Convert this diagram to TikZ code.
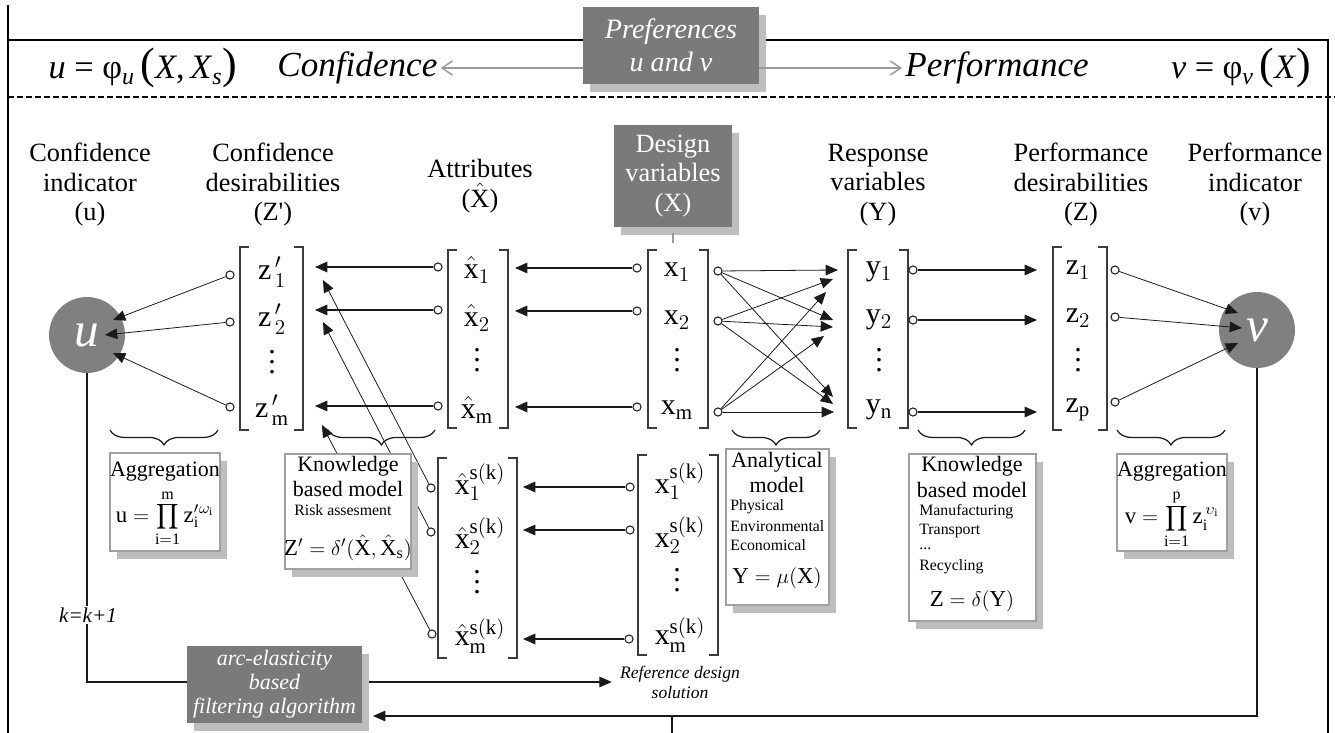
\documentclass[tikz,border=0pt]{standalone}
\usepackage{fontspec}
\setmainfont{Liberation Serif}
\usetikzlibrary{arrows.meta,decorations.pathreplacing,shadows,calc}
\definecolor{boxgray}{HTML}{7A7A7A}
\definecolor{circgray}{HTML}{808080}
\definecolor{shadowgray}{HTML}{BEBEBE}
\definecolor{bordergray}{HTML}{A0A0A0}
\definecolor{garrow}{HTML}{9A9A9A}
\definecolor{ink}{HTML}{1A1A1A}
\newcommand{\vd}{\vbox{\baselineskip=5.6pt\lineskiplimit=0pt\hbox{.}\hbox{.}\hbox{.}}}
\newcommand{\bigparl}{{\fontsize{25}{25}\selectfont(}}
\newcommand{\bigparr}{{\fontsize{25}{25}\selectfont)}}
\newcommand{\brk}[4]{%
  \draw[brk] (#1+9,#3) -| (#1,#4) -- (#1+9,#4);
  \draw[brk] (#2-9,#3) -| (#2,#4) -- (#2-9,#4);}
\tikzset{
  hdr/.style={align=center, inner sep=0pt, font=\fontsize{15}{16.8}\selectfont},
  hmath/.style={inner sep=0pt, font=\fontsize{19.5}{22}\selectfont},
  hital/.style={inner sep=0pt, font=\fontsize{20}{22}\selectfont\itshape},
  ent/.style={inner sep=0pt, font=\fontsize{17}{19}\selectfont},
  term/.style={circle, draw=ink, fill=white, line width=0.6pt, inner sep=0pt, minimum size=4.6pt},
  conn/.style={draw=ink, line width=0.6pt, -{Triangle[length=7pt,width=6pt]}},
  thinconn/.style={draw=ink, line width=0.45pt, -{Triangle[length=7pt,width=6pt]}},
  plain/.style={draw=ink, line width=0.6pt},
  brk/.style={draw=ink!85, line width=0.7pt},
  frame/.style={draw=black, line width=1.1pt},
  dline/.style={draw=black, line width=1.1pt, dash pattern=on 3.4pt off 1.7pt},
  garr/.style={draw=garrow, line width=0.8pt, -{Straight Barb[length=6pt,width=8pt]}},
  tickc/.style={draw=garrow, line width=1pt},
  shad/.style={drop shadow={shadow xshift=4pt, shadow yshift=-4.5pt, fill=shadowgray, opacity=1}},
  gbox/.style={fill=boxgray, text=white, inner sep=0pt, align=center, shad},
  wbox/.style={draw=bordergray, fill=white, line width=0.7pt, inner sep=0pt, shad},
  bigc/.style={circle, fill=circgray, text=white, inner sep=0pt, minimum size=1.52cm, font=\fontsize{28}{28}\selectfont\itshape},
  btxt/.style={inner sep=0pt, font=\fontsize{12.5}{14}\selectfont},
  stxt/.style={inner sep=0pt, anchor=west, font=\fontsize{9}{10}\selectfont},
  ftxt/.style={inner sep=0pt, font=\fontsize{13}{15}\selectfont},
  dbrace/.style={draw=ink, line width=0.7pt, decorate, decoration={brace, mirror, amplitude=8.5pt}}
}
\begin{document}
\begin{tikzpicture}[x=0.02cm,y=-0.02cm]
\useasboundingbox (0,0) rectangle (1335,733);
% frame
\draw[frame] (8,5) -- (8,733);
\draw[frame] (8,40) -- (1328,40) -- (1328,733);
\draw[dline] (8,97) -- (1335,97);
% header
\node[hmath] (phiu) at (143,68) {\textit{u} = φ\textsubscript{\textit{u}}\,\bigparl\textit{X},\,\textit{X}\textsubscript{\textit{s}}\bigparr};
\node[hital, anchor=west] (conf) at (277,68) {Confidence};
\node[hital, anchor=west] (perf) at (905,68) {Performance};
\node[hmath] (phiv) at (1241,68) {\textit{v} = φ\textsubscript{\textit{v}}\,\bigparl\textit{X}\bigparr};
\node[gbox, minimum width=3.52cm, minimum height=1.54cm, font=\fontsize{16}{18.7}\selectfont\itshape] (pref) at (671,45.5) {Preferences\\u and v};
\draw[garr] (conf.east -| pref.west) -- ($(conf.east)+(3,0)$);
\draw[garr] (perf.west -| pref.east) -- ($(perf.west)+(-3,0)$);
% column headers
\node[hdr] (hu) at (90,185) {Confidence\\indicator\\(u)};
\node[hdr] (hzp) at (273,185) {Confidence\\desirabilities\\(Z\textquotesingle)};
\node[hdr] (hxh) at (480,186) {Attributes\\($\hat{\mathrm{X}}$)};
\node[gbox, minimum width=2.36cm, minimum height=2.04cm, font=\fontsize{15}{17}\selectfont] (dv) at (673,176) {Design\\variables\\(X)};
\draw[tickc] ($(dv.south)+(0,6)$) -- ($(dv.south)+(0,16)$);
\node[hdr] (hy) at (878,185) {Response\\variables\\(Y)};
\node[hdr] (hz) at (1081,185) {Performance\\desirabilities\\(Z)};
\node[hdr] (hv) at (1255,185) {Performance\\indicator\\(v)};
% indicator circles
\node[bigc] (u) at (87,335) {u};
\node[bigc] (v) at (1257,330) {v};
% brackets
\brk{240}{303}{247}{430}
\brk{448}{508}{250}{428}
\brk{648}{708}{250}{428}
\brk{848}{908}{250}{428}
\brk{1053}{1107}{247}{430}
\brk{438}{517}{458}{658}
\brk{638}{718}{455}{655}
% entries
\node[ent] (zp1) at (272,272) {$\mathrm{z}^{\,\prime}_{\,1}$};
\node[ent] (zp2) at (272,319) {$\mathrm{z}^{\,\prime}_{\,2}$};
\node[ent] (zpd) at (272,362) {\vd};
\node[ent] (zpm) at (272,410) {$\mathrm{z}^{\,\prime}_{\,\mathrm{m}}$};
\node[ent] (xh1) at (477,270) {$\hat{\mathrm{x}}_{1}$};
\node[ent] (xh2) at (477,318) {$\hat{\mathrm{x}}_{2}$};
\node[ent] (xhd) at (477,360) {\vd};
\node[ent] (xhm) at (477,410) {$\hat{\mathrm{x}}_{\mathrm{m}}$};
\node[ent] (x1) at (677,272) {$\mathrm{x}_{1}$};
\node[ent] (x2) at (677,320) {$\mathrm{x}_{2}$};
\node[ent] (xd) at (677,360) {\vd};
\node[ent] (xm) at (677,410) {$\mathrm{x}_{\mathrm{m}}$};
\node[ent] (y1) at (879,272) {$\mathrm{y}_{1}$};
\node[ent] (y2) at (879,320) {$\mathrm{y}_{2}$};
\node[ent] (yd) at (879,360) {\vd};
\node[ent] (yn) at (879,410) {$\mathrm{y}_{\mathrm{n}}$};
\node[ent] (z1) at (1078,270) {$\mathrm{z}_{1}$};
\node[ent] (z2) at (1078,318) {$\mathrm{z}_{2}$};
\node[ent] (zd) at (1078,360) {\vd};
\node[ent] (zpp) at (1078,410) {$\mathrm{z}_{\mathrm{p}}$};
\node[ent] (xs1) at (480,482) {$\hat{\mathrm{x}}_{1}^{\mathrm{s(k)}}$};
\node[ent] (xs2) at (480,536) {$\hat{\mathrm{x}}_{2}^{\mathrm{s(k)}}$};
\node[ent] (xsd) at (477,582) {\vd};
\node[ent] (xsm) at (480,636) {$\hat{\mathrm{x}}_{\mathrm{m}}^{\mathrm{s(k)}}$};
\node[ent] (r1) at (680,481) {$\mathrm{x}_{1}^{\mathrm{s(k)}}$};
\node[ent] (r2) at (680,535) {$\mathrm{x}_{2}^{\mathrm{s(k)}}$};
\node[ent] (rd) at (677,580) {\vd};
\node[ent] (rm) at (680,635) {$\mathrm{x}_{\mathrm{m}}^{\mathrm{s(k)}}$};
% terminals
\node[term] (tz1) at (230,275) {};
\node[term] (tz2) at (230,322) {};
\node[term] (tzm) at (230,407) {};
\node[term] (th1) at (438,267) {};
\node[term] (th2) at (438,310) {};
\node[term] (thm) at (438,406) {};
\node[term] (tx1) at (637,268) {};
\node[term] (tx2) at (637,311) {};
\node[term] (txm) at (637,407) {};
\node[term] (to1) at (718,271) {};
\node[term] (to2) at (718,321) {};
\node[term] (tom) at (718,412) {};
\node[term] (ty1) at (913,270) {};
\node[term] (ty2) at (913,320) {};
\node[term] (tyn) at (913,412) {};
\node[term] (tzz1) at (1115,270) {};
\node[term] (tzz2) at (1115,317) {};
\node[term] (tzzp) at (1115,402) {};
\node[term] (ts1) at (431,488) {};
\node[term] (ts2) at (431,532) {};
\node[term] (tsm) at (432,634) {};
\node[term] (tr1) at (630,487) {};
\node[term] (tr2) at (630,530) {};
\node[term] (trm) at (629,639) {};
% arrow target coordinates
\coordinate (u1) at (113,320);
\coordinate (u2) at (105,335);
\coordinate (u3) at (113,353);
\coordinate (a1) at (315,267);
\coordinate (a2) at (315,310);
\coordinate (a3) at (315,406);
\coordinate (b1) at (323,280);
\coordinate (b2) at (323,322);
\coordinate (b3) at (322,425);
\coordinate (c1) at (515,268);
\coordinate (c2) at (515,311);
\coordinate (c3) at (515,407);
\coordinate (d1) at (523,487);
\coordinate (d2) at (523,530);
\coordinate (d3) at (523,639);
\coordinate (e11) at (838,270);
\coordinate (e12) at (833,320);
\coordinate (e13) at (833,397);
\coordinate (e21) at (833,279);
\coordinate (e22) at (833,327);
\coordinate (e23) at (833,404);
\coordinate (e31) at (826,292);
\coordinate (e32) at (824,336);
\coordinate (e33) at (834,412);
\coordinate (f1) at (1037,270);
\coordinate (f2) at (1037,320);
\coordinate (f3) at (1037,412);
\coordinate (g1) at (1238,313);
\coordinate (g2) at (1242,328);
\coordinate (g3) at (1238,343);
% connectors
\draw[thinconn] (tz1) -- (u1);
\draw[thinconn] (tz2) -- (u2);
\draw[thinconn] (tzm) -- (u3);
\draw[conn] (th1) -- (a1);
\draw[conn] (th2) -- (a2);
\draw[conn] (thm) -- (a3);
\draw[thinconn] (ts1) -- (b1);
\draw[thinconn] (ts2) -- (b2);
\draw[thinconn] (tsm) -- (b3);
\draw[conn] (tx1) -- (c1);
\draw[conn] (tx2) -- (c2);
\draw[conn] (txm) -- (c3);
\draw[conn] (tr1) -- (d1);
\draw[conn] (tr2) -- (d2);
\draw[conn] (trm) -- (d3);
\draw[thinconn] (to1) -- (e11);
\draw[thinconn] (to1) -- (e12);
\draw[thinconn] (to1) -- (e13);
\draw[thinconn] (to2) -- (e21);
\draw[thinconn] (to2) -- (e22);
\draw[thinconn] (to2) -- (e23);
\draw[thinconn] (tom) -- (e31);
\draw[thinconn] (tom) -- (e32);
\draw[thinconn] (tom) -- (e33);
\draw[conn] (ty1) -- (f1);
\draw[conn] (ty2) -- (f2);
\draw[conn] (tyn) -- (f3);
\draw[thinconn] (tzz1) -- (g1);
\draw[thinconn] (tzz2) -- (g2);
\draw[thinconn] (tzzp) -- (g3);
% braces
\draw[dbrace] (110,430) -- (218,430);
\draw[dbrace] (328,430) -- (435,430);
\draw[dbrace] (732,430) -- (820,430);
\draw[dbrace] (918,430) -- (1025,430);
\draw[dbrace] (1117,430) -- (1225,430);
% model boxes
\node[wbox, minimum width=2.2cm, minimum height=1.96cm] (aggL) at (165,502) {};
\node[btxt] (aggLt) at (165,472) {Aggregation};
\node[ftxt] (aggLf) at (165,518) {$\mathrm{u}=\displaystyle\prod_{\mathrm{i=1}}^{\mathrm{m}}\mathrm{z}^{\prime}_{\mathrm{i}}{}^{\omega_{\mathrm{i}}}$};
\node[wbox, minimum width=2.52cm, minimum height=2.3cm] (kbmL) at (348,511.5) {};
\node[btxt] (kbmL1) at (348,466) {Knowledge};
\node[btxt] (kbmL2) at (348,489) {based model};
\node[stxt] (kbmL3) at (294,510) {Risk assesment};
\node[ftxt] (kbmLf) at (348,548) {$\mathrm{Z}'=\delta'\bigl(\hat{\mathrm{X}},\hat{\mathrm{X}}_{\mathrm{s}}\bigr)$};
\node[wbox, minimum width=2.06cm, minimum height=3.12cm] (anal) at (777.5,527) {};
\node[btxt] (anal1) at (777,462) {Analytical};
\node[btxt] (anal2) at (777,485) {model};
\node[stxt] (anal3) at (730,507) {Physical};
\node[stxt] (anal4) at (730,526) {Environmental};
\node[stxt] (anal5) at (730,545) {Economical};
\node[ftxt] (analf) at (777,578) {$\mathrm{Y}=\mu\bigl(\mathrm{X}\bigr)$};
\node[wbox, minimum width=2.54cm, minimum height=3.34cm] (kbmR) at (972.5,537.5) {};
\node[btxt] (kbmR1) at (972,466) {Knowledge};
\node[btxt] (kbmR2) at (972,490) {based model};
\node[stxt] (kbmR3) at (919,512) {Manufacturing};
\node[stxt] (kbmR4) at (919,531) {Transport};
\node[stxt] (kbmR5) at (919,549) {...};
\node[stxt] (kbmR6) at (919,567) {Recycling};
\node[ftxt] (kbmRf) at (972,601) {$\mathrm{Z}=\delta\bigl(\mathrm{Y}\bigr)$};
\node[wbox, minimum width=2.2cm, minimum height=1.94cm] (aggR) at (1172,502.5) {};
\node[btxt] (aggRt) at (1172,472) {Aggregation};
\node[ftxt] (aggRf) at (1172,519) {$\mathrm{v}=\displaystyle\prod_{\mathrm{i=1}}^{\mathrm{p}}\mathrm{z}_{\mathrm{i}}^{\,\upsilon_{\mathrm{i}}}$};
% bottom loop
\node[inner sep=0pt, align=center, font=\fontsize{10}{11.3}\selectfont\itshape] (rds) at (680,682) {Reference design\\solution};
\coordinate (fb) at (373,716);
\draw[conn] (u.south) |- ($(rds.west)+(-8,0)$);
\draw[conn] (v.south) |- (fb);
\draw[plain] (672,716) -- (672,733);
\node[gbox, minimum width=3.5cm, minimum height=1.54cm, font=\fontsize{12.5}{13.6}\selectfont\itshape] (arc) at (274.5,684.5) {arc-elasticity\\based\\filtering algorithm};
\node[fill=white, inner sep=1pt, font=\fontsize{12}{13}\selectfont\itshape] (kk) at (88,615) {k=k+1};
\end{tikzpicture}
\end{document}
